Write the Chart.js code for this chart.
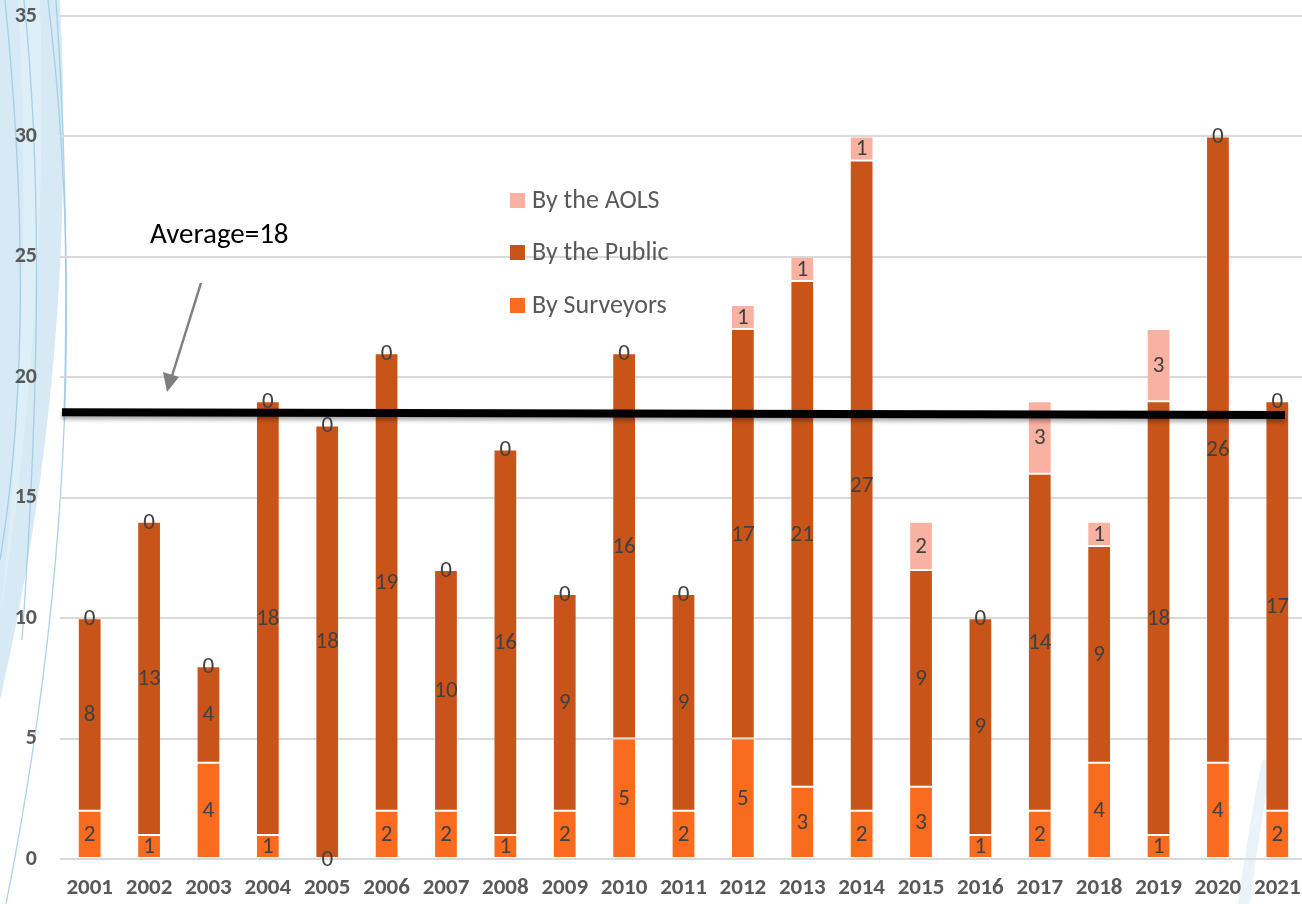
<!DOCTYPE html>
<html>
<head>
<meta charset="utf-8">
<script src="https://cdn.jsdelivr.net/npm/chart.js@4/dist/chart.umd.min.js"></script>
<style>
  html, body { margin: 0; padding: 0; background: #fff; overflow: hidden; }
  #wrap { position: absolute; left: 0; top: 0; width: 1307px; height: 904px; }
</style>
</head>
<body>
<div id="wrap"><canvas id="grafico" width="1307" height="904"></canvas></div>
<script>
const anos = ['2001','2002','2003','2004','2005','2006','2007','2008','2009','2010','2011',
  '2012','2013','2014','2015','2016','2017','2018','2019','2020','2021'];
const porSurveyors = [2,1,4,1,0,2,2,1,2,5,2,5,3,2,3,1,2,4,1,4,2];
const porPublic = [8,13,4,18,18,19,10,16,9,16,9,17,21,27,9,9,14,9,18,26,17];
const porAols = [0,0,0,0,0,0,0,0,0,0,0,1,1,1,2,0,3,1,3,0,0];
const yTicks = [0,5,10,15,20,25,30,35];
// black average line, value at left end / right end
const linhaMedia = [18.55, 18.43];
const textoMedia = 'Average=18';

const FONTE = "Carlito, 'Open Sans', sans-serif";
const CINZA = '#595959';

const fundo = {
  id: 'fundo',
  beforeDraw(chart) {
    const c = chart.ctx;
    c.save();
    c.fillStyle = '#fff';
    c.fillRect(0, 0, chart.width, chart.height);
    // slide decoration on the left
    c.fillStyle = 'rgba(200,226,240,0.75)';
    c.beginPath();
    c.moveTo(0, 0); c.lineTo(60, 0);
    c.quadraticCurveTo(78, 360, 0, 700);
    c.closePath(); c.fill();
    c.fillStyle = 'rgba(225,240,248,0.8)';
    c.beginPath();
    c.moveTo(18, 0); c.lineTo(40, 0);
    c.quadraticCurveTo(50, 300, 0, 620);
    c.quadraticCurveTo(35, 300, 18, 0);
    c.closePath(); c.fill();
    c.strokeStyle = 'rgba(150,200,225,0.8)';
    c.lineWidth = 1.3;
    [[48, 0, 100, 430, 6, 904], [5, 0, 38, 330, 0, 560], [24, 0, 50, 250, 22, 640], [56, 0, 70, 200, 64, 420]].forEach(p => {
      c.beginPath(); c.moveTo(p[0], p[1]); c.quadraticCurveTo(p[2], p[3], p[4], p[5]); c.stroke();
    });
    // faint sweep lower right
    c.fillStyle = 'rgba(215,233,244,0.55)';
    c.beginPath();
    c.moveTo(1262, 760); c.lineTo(1272, 760);
    c.quadraticCurveTo(1258, 840, 1250, 904); c.lineTo(1238, 904);
    c.quadraticCurveTo(1248, 830, 1262, 760);
    c.closePath(); c.fill();
    c.restore();
  }
};

const rotulos = {
  id: 'rotulos',
  afterDatasetsDraw(chart) {
    const c = chart.ctx;
    const y = chart.scales.y;
    const area = chart.chartArea;
    c.save();
    // average line with soft shadow
    c.shadowColor = 'rgba(0,0,0,0.35)';
    c.shadowBlur = 4;
    c.shadowOffsetY = 3;
    c.strokeStyle = '#000';
    c.lineWidth = 8;
    c.beginPath();
    c.moveTo(area.left + 2, y.getPixelForValue(linhaMedia[0]));
    c.lineTo(area.right - 22, y.getPixelForValue(linhaMedia[1]));
    c.stroke();
    c.restore();

    c.save();
    c.font = '23px ' + FONTE;
    c.fillStyle = '#404040';
    c.textAlign = 'center';
    c.textBaseline = 'middle';
    chart.data.datasets.forEach((ds, i) => {
      const meta = chart.getDatasetMeta(i);
      meta.data.forEach((el, j) => {
        const yy = (el.y + el.base) / 2;
        c.fillText(String(ds.data[j]), el.x, yy + 1);
      });
    });
    c.restore();

    // legend (reversed order)
    c.save();
    c.font = '26px ' + FONTE;
    c.textBaseline = 'middle';
    const linhas = [200, 252, 305];
    chart.data.datasets.slice().reverse().forEach((ds, k) => {
      c.fillStyle = ds.backgroundColor;
      c.fillRect(510, linhas[k] - 7, 15, 15);
      c.fillStyle = CINZA;
      c.fillText(ds.label, 532, linhas[k] + 1);
    });

    // annotation text and arrow
    c.font = '29px ' + FONTE;
    c.fillStyle = '#000';
    c.textBaseline = 'alphabetic';
    c.fillText(textoMedia, 150, 243);
    c.strokeStyle = '#7f7f7f';
    c.fillStyle = '#7f7f7f';
    c.lineWidth = 2.5;
    c.beginPath();
    c.moveTo(201, 283);
    c.lineTo(172, 376);
    c.stroke();
    c.beginPath();
    c.moveTo(167, 392);
    c.lineTo(163, 372);
    c.lineTo(179, 377);
    c.closePath();
    c.fill();
    c.restore();
  }
};

function serie(label, dados, cor) {
  return {
    label: label,
    data: dados,
    backgroundColor: cor,
    borderColor: 'rgba(255,255,255,0.14)',
    borderWidth: 1,
    borderSkipped: false,
    barPercentage: 0.4,
    categoryPercentage: 1.0
  };
}

new Chart(document.getElementById('grafico'), {
  type: 'bar',
  data: {
    labels: anos,
    datasets: [
      serie('By Surveyors', porSurveyors, '#F96B1E'),
      serie('By the Public', porPublic, '#C9541A'),
      serie('By the AOLS', porAols, '#F9B2A2')
    ]
  },
  options: {
    responsive: false,
    animation: false,
    layout: { padding: { top: 16, right: 0, bottom: 0, left: 0 } },
    plugins: { legend: { display: false }, tooltip: { enabled: false } },
    scales: {
      x: {
        stacked: true,
        grid: { display: false },
        border: { display: false },
        ticks: { color: CINZA, font: { family: FONTE, size: 23, weight: 'bold' }, padding: 7, maxRotation: 0 },
        afterFit: s => { s.height = 45; s.paddingLeft = 0; s.paddingRight = 0; }
      },
      y: {
        stacked: true,
        min: 0,
        max: 35,
        afterBuildTicks: s => { s.ticks = yTicks.map(v => ({ value: v })); },
        grid: { color: '#d9d9d9', lineWidth: 2, drawTicks: false },
        border: { display: false },
        ticks: { color: CINZA, font: { family: FONTE, size: 22, weight: 'bold' }, padding: 23 },
        afterFit: s => { s.width = 60; s.paddingTop = 0; s.paddingBottom = 0; }
      }
    }
  },
  plugins: [fundo, rotulos]
});
</script>
</body>
</html>
